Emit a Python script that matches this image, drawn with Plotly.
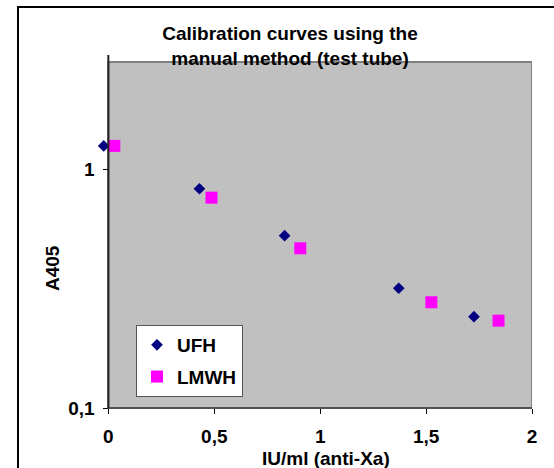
import plotly.graph_objects as go

ufh_x = [-0.022, 0.430, 0.832, 1.371, 1.726]
ufh_y = [1.25, 0.827, 0.526, 0.317, 0.241]
lmwh_x = [0.028, 0.487, 0.906, 1.525, 1.842]
lmwh_y = [1.25, 0.759, 0.466, 0.277, 0.232]

x_ticks = [0, 0.5, 1, 1.5, 2]
x_tick_labels = ["0", "0,5", "1", "1,5", "2"]
y_ticks = [0.1, 1]
y_tick_labels = ["0,1", "1"]

FONT = "Liberation Sans, Arial, sans-serif"
W, H = 554, 468
L, R, T, B = 102, 22, 62, 60
PW, PH = W - L - R, H - T - B
X_MIN, X_MAX = -0.03, 2.0


def px(xp):
    return (xp - L) / PW


def py(yp):
    return (H - B - yp) / PH


fig = go.Figure()
fig.add_trace(go.Scatter(x=ufh_x, y=ufh_y, mode="markers", name="<b>UFH</b>",
                         legendgroup="a", cliponaxis=False,
                         marker=dict(symbol="diamond", size=9, color="#000080")))
fig.add_trace(go.Scatter(x=lmwh_x, y=lmwh_y, mode="markers", name="<b>LMWH</b>",
                         legendgroup="b", cliponaxis=False,
                         marker=dict(symbol="square", size=12, color="#FF00FF")))

fig.update_layout(
    width=W, height=H,
    margin=dict(l=L, r=R, t=T, b=B),
    paper_bgcolor="white", plot_bgcolor="white",
    font=dict(family=FONT, color="black", size=19),
    title=dict(text="<b>Calibration curves using the<br>manual method (test tube)</b>",
               x=290 / W, xanchor="center", y=1 - 40 / H, yanchor="top",
               font=dict(size=19, family=FONT)),
    showlegend=True,
    legend=dict(x=px(136), y=py(325), xanchor="left", yanchor="top",
                bgcolor="white", bordercolor="#555555", borderwidth=1,
                font=dict(size=19, family=FONT), itemwidth=30,
                tracegroupgap=4, traceorder="grouped"),
    xaxis=dict(range=[X_MIN, X_MAX], domain=[0, 1], tickvals=x_ticks,
               ticktext=["<b>%s</b>" % t for t in x_tick_labels],
               showgrid=False, zeroline=False, ticks="outside", ticklen=5,
               tickcolor="black", showline=False,
               ticklabelstandoff=6,
               tickfont=dict(size=19, family=FONT)),
    yaxis=dict(type="log", range=[-1, 0.448], tickvals=y_ticks,
               ticktext=["<b>%s</b>" % t for t in y_tick_labels],
               anchor="free", position=(0 - X_MIN) / (X_MAX - X_MIN),
               showgrid=False, zeroline=False, ticks="outside", ticklen=5,
               tickcolor="black", showline=False, ticklabelstandoff=5,
               tickfont=dict(size=19, family=FONT)),
    shapes=[
        dict(type="rect", xref="x", yref="paper", x0=0, x1=2, y0=0, y1=1,
             fillcolor="#C0C0C0", line=dict(color="#808080", width=2), layer="below"),
        dict(type="line", xref="x", yref="paper", x0=0, x1=0, y0=0, y1=py(55),
             line=dict(color="#222222", width=2)),
        dict(type="line", xref="x", yref="paper", x0=0, x1=2, y0=0, y1=0,
             line=dict(color="#222222", width=1)),
        dict(type="rect", xref="paper", yref="paper",
             x0=px(18), x1=px(570), y0=py(490), y1=py(7),
             line=dict(color="black", width=2), layer="above"),
    ],
    annotations=[
        dict(text="<b>IU/ml (anti-Xa)</b>", xref="paper", yref="paper",
             x=px(326), y=py(458), xanchor="center", yanchor="middle",
             showarrow=False, font=dict(size=19, family=FONT)),
        dict(text="<b>A405</b>", xref="paper", yref="paper", textangle=-90,
             x=px(52), y=py(268), xanchor="center", yanchor="middle",
             showarrow=False, font=dict(size=19, family=FONT)),
    ],
)

fig.write_html("out.html", post_script="document.body.style.margin='0';",
               config={"displayModeBar": False})
